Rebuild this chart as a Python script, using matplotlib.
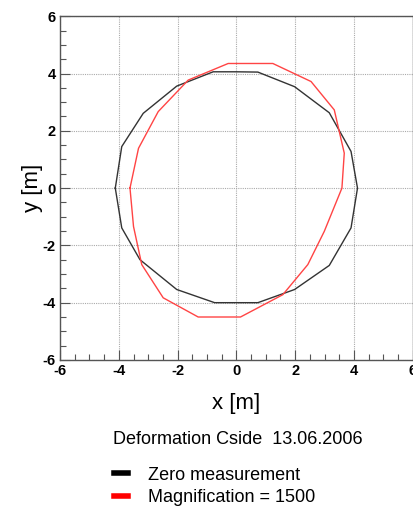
import numpy as np
import matplotlib.pyplot as plt
from matplotlib.lines import Line2D

# zero measurement (black polygon), metres
zero_x = [-4.12, -3.90, -3.17, -2.03, -0.79, 0.0, 0.73, 1.98, 3.16, 3.90, 4.12,
          3.90, 3.16, 1.98, 0.73, 0.0, -0.74, -2.03, -3.28, -3.90, -4.12]
zero_y = [0.0, 1.45, 2.61, 3.56, 4.06, 4.06, 4.05, 3.54, 2.63, 1.28, 0.0,
          -1.39, -2.70, -3.54, -4.00, -4.00, -4.00, -3.54, -2.50, -1.39, 0.0]

# deformed shape, magnification 1500 (red polygon)
mag_x = [-3.62, -3.33, -2.66, -1.64, -0.28, 1.24, 2.54, 3.33, 3.67, 3.59,
         2.99, 2.43, 1.58, 0.14, -1.30, -2.49, -3.22, -3.50, -3.62]
mag_y = [0.0, 1.39, 2.67, 3.77, 4.35, 4.35, 3.72, 2.73, 1.22, 0.0,
         -1.51, -2.67, -3.72, -4.50, -4.50, -3.83, -2.67, -1.34, 0.0]

ticks = [-6, -4, -2, 0, 2, 4, 6]

plt.rcParams['font.family'] = ['Liberation Sans', 'DejaVu Sans']
plt.rcParams['axes.unicode_minus'] = False

fig = plt.figure(figsize=(4.14, 5.07), dpi=100)
ax = fig.add_axes([0.145, 0.29, 0.852, 0.678])

ax.plot(zero_x, zero_y, color='#333333', lw=1.0)
ax.plot(mag_x, mag_y, color='#ff4444', lw=1.0)

ax.set_xlim(-6, 6)
ax.set_ylim(-6, 6)
ax.set_xticks(ticks)
ax.set_yticks(ticks)
ax.set_xticks(np.arange(-6, 6.01, 0.5), minor=True)
ax.set_yticks(np.arange(-6, 6.01, 0.5), minor=True)
ax.tick_params(which='major', direction='in', length=7, width=0.8, color='#555555',
               labelsize=10.5, pad=3)
ax.tick_params(which='minor', direction='in', length=4, width=0.8, color='#555555')
for lab in ax.get_xticklabels() + ax.get_yticklabels():
    lab.set_fontweight('bold')

ax.grid(True, which='major', color='#aaaaaa', linestyle=(0, (1, 1)), lw=0.8)
for s in ax.spines.values():
    s.set_color('#555555')
    s.set_linewidth(1.0)

ax.set_xlabel('x [m]', fontsize=16, labelpad=11)
ax.set_ylabel('y [m]', fontsize=16, labelpad=0)

fig.text(0.575, 0.134, 'Deformation Cside  13.06.2006', fontsize=13, ha='center', va='center')

handles = [Line2D([], [], color='black', lw=4), Line2D([], [], color='red', lw=4)]
labels = ['Zero measurement', 'Magnification = 1500']
fig.legend(handles, labels, loc='upper left', bbox_to_anchor=(0.258, 0.094),
           frameon=False, fontsize=13, handlelength=0.8, handletextpad=1.1,
           labelspacing=0.3, borderaxespad=0)

fig.savefig('out.png', dpi=100)
